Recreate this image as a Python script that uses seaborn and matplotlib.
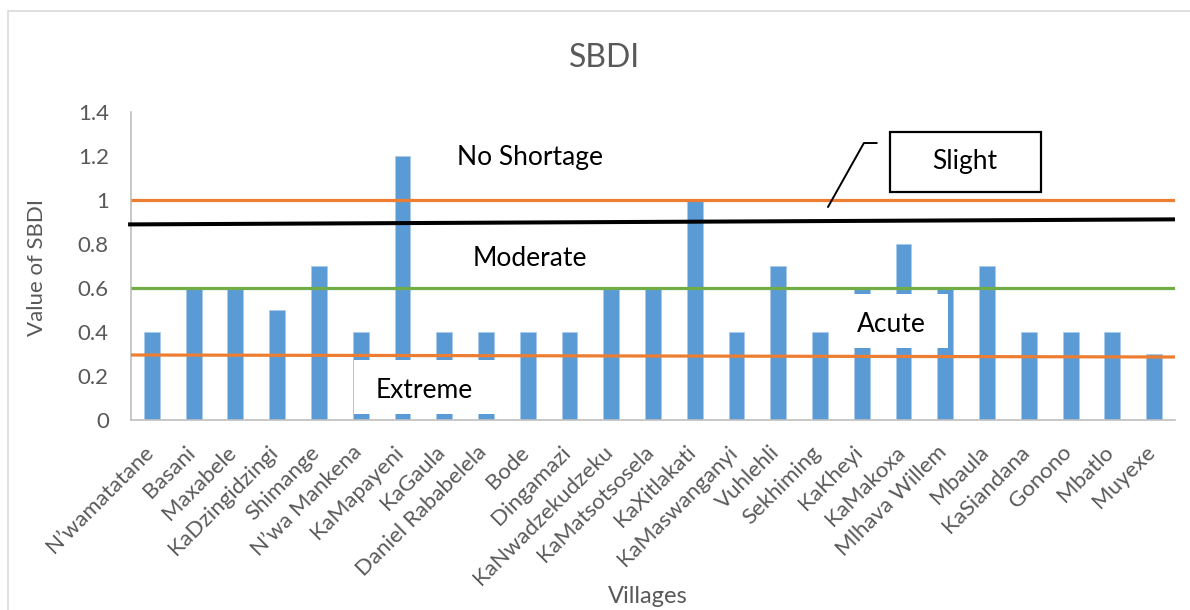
import matplotlib
matplotlib.use("Agg")
import matplotlib.pyplot as plt
from matplotlib.patches import Rectangle
from matplotlib.transforms import ScaledTranslation
import seaborn as sns
import pandas as pd

villages = [
    "N\u2019wamatatane", "Basani", "Maxabele", "KaDzingidzingi", "Shimange",
    "N\u2019wa Mankena", "KaMapayeni", "KaGaula", "Daniel Rababelela", "Bode",
    "Dingamazi", "KaNwadzekudzeku", "KaMatsotsosela", "KaXitlakati",
    "KaMaswanganyi", "Vuhlehli", "Sekhiming", "KaKheyi", "KaMakoxa",
    "Mlhava Willem", "Mbaula", "KaSiandana", "Gonono", "Mbatlo", "Muyexe",
]
sbdi = [0.4, 0.6, 0.6, 0.5, 0.7, 0.4, 1.2, 0.4, 0.4, 0.4, 0.4, 0.6, 0.6, 1.0,
        0.4, 0.7, 0.4, 0.6, 0.8, 0.6, 0.7, 0.4, 0.4, 0.4, 0.3]

# class boundary lines (start value, end value)
upper_orange = [1.0, 1.0]
black_limit = [0.889, 0.912]
green_limit = [0.6, 0.6]
lower_orange = [0.2955, 0.2864]

class_labels = ["No Shortage", "Slight", "Moderate", "Acute", "Extreme"]
y_ticks = [0, 0.2, 0.4, 0.6, 0.8, 1, 1.2, 1.4]
y_tick_labels = ["0", "0.2", "0.4", "0.6", "0.8", "1", "1.2", "1.4"]

sns.set_theme(style="white")
plt.rcParams["font.family"] = ["Lato", "DejaVu Sans"]

df = pd.DataFrame({"Village": villages, "SBDI": sbdi})

W, H = 1190, 610
fig = plt.figure(figsize=(W / 100, H / 100), dpi=100)
ax = fig.add_axes([131 / W, 1 - 420 / H, (1175 - 131) / W, (420 - 112) / H])

sns.barplot(data=df, x="Village", y="SBDI", color="#5B9BD5", saturation=1,
            width=0.38, edgecolor="#A9CBEA", linewidth=0.6, ax=ax, zorder=2)

n = len(villages)
ax.set_xlim(-0.5, n - 0.5)
ax.set_ylim(0, 1.4)

# boundary lines
line_kw = dict(zorder=3, solid_capstyle="butt")
ax.plot([-0.5, n - 0.5], upper_orange, color="#ED7D31", lw=2.3, **line_kw)
ax.plot([-0.57, n - 0.5], black_limit, color="black", lw=2.9, clip_on=False,
        **line_kw)
ax.plot([-0.5, n - 0.5], green_limit, color="#70AD47", lw=2.3, **line_kw)
ax.plot([-0.5, n - 0.5], lower_orange, color="#ED7D31", lw=2.3, **line_kw)

txt_kw = dict(color="black", fontsize=19, ha="center", va="center", zorder=6)

# white text boxes laid over bars
ax.add_patch(Rectangle((4.84, 0.027), 3.55, 0.246, facecolor="white",
                       edgecolor="none", zorder=4))
ax.text(6.52, 0.136, class_labels[4], **txt_kw)
ax.add_patch(Rectangle((16.43, 0.327), 2.64, 0.245, facecolor="white",
                       edgecolor="none", zorder=4))
ax.text(17.70, 0.432, class_labels[3], **txt_kw)

ax.text(9.05, 1.193, class_labels[0], **txt_kw)
ax.text(9.04, 0.736, class_labels[2], **txt_kw)

# Slight callout
ax.add_patch(Rectangle((17.68, 1.036), 3.61, 0.273, facecolor="white",
                       edgecolor="black", lw=1.6, zorder=4))
ax.text(19.47, 1.173, class_labels[1], **txt_kw)
ax.plot([16.19, 17.05, 17.36], [0.968, 1.259, 1.259], color="black", lw=1.4,
        zorder=5)

ax.set_yticks(y_ticks)
ax.set_yticklabels(y_tick_labels)
ax.tick_params(axis="y", length=0, labelsize=16, labelcolor="#595959", pad=16)
ax.tick_params(axis="x", length=0, labelsize=16, labelcolor="#595959", pad=21)
shift = ScaledTranslation(-2 / 100, 0, fig.dpi_scale_trans)
for lab in ax.get_xticklabels():
    lab.set_rotation(45)
    lab.set_ha("right")
    lab.set_va("center")
    lab.set_rotation_mode("anchor")
    lab.set_transform(lab.get_transform() + shift)

for side in ["top", "right"]:
    ax.spines[side].set_visible(False)
for side in ["left", "bottom"]:
    ax.spines[side].set_color("#BFBFBF")
    ax.spines[side].set_linewidth(1.2)

ax.set_xlabel("Villages", fontsize=17, color="#595959", va="top")
ax.xaxis.set_label_coords((648 - 131) / 1044, -(586 - 420) / 308)
ax.set_ylabel("Value of SBDI", fontsize=16, color="#595959")
ax.yaxis.set_label_coords(-(131 - 47) / 1044, (420 - 267) / 308)
ax.text((605 - 131) / 1044, (420 - 67) / 308, "SBDI", transform=ax.transAxes,
        fontsize=23, color="#595959", ha="center", va="baseline")

# chart area frame
fig.patches.append(Rectangle((8 / W, -0.2), 1.2, 1 - 11 / H + 0.2,
                             transform=fig.transFigure, facecolor="none",
                             edgecolor="#D9D9D9", lw=1.2))

fig.savefig("out.png", dpi=100)
